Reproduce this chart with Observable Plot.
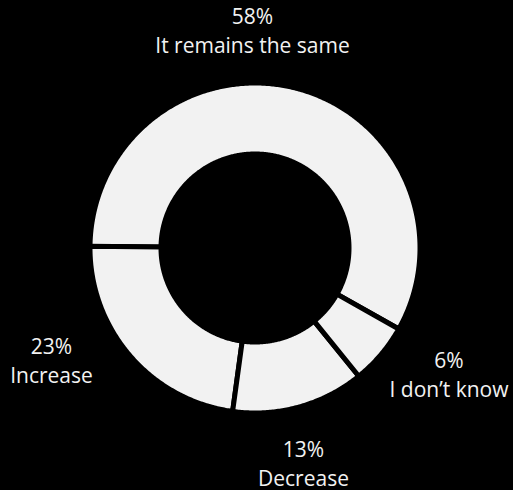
<!DOCTYPE html>
<html><head><meta charset="utf-8">
<script src="https://cdn.jsdelivr.net/npm/d3@7"></script>
<script src="https://cdn.jsdelivr.net/npm/@observablehq/plot@0.6"></script>
<style>html,body{margin:0;padding:0;background:#000;} #chart svg{display:block}</style>
</head><body><div id="chart"></div>
<script>
// data
const categories = ["It remains the same", "Increase", "Decrease", "I don’t know"];
const values = [58, 23, 13, 6];
const pctLabels = ["58%", "23%", "13%", "6%"];

// layout
const W = 513, H = 490, cx = 255, cy = 248, R0 = 165, R1 = 94;
const startDeg = 119.4; // slices run counterclockwise from here
const labelOffsets = [[-3, -219.7], [-204, 110.3], [48, 213.7], [193.5, 124.3]];

const total = d3.sum(values);
const ring = [];
let a = startDeg;
categories.forEach((c, i) => {
  const span = values[i] / total * 360;
  const a0 = a, a1 = a - span;
  const n = Math.max(2, Math.ceil(span / 0.5));
  for (let k = 0; k <= n; k++) {
    const t = (a0 + (a1 - a0) * k / n) * Math.PI / 180;
    ring.push({cat: c,
      x1: cx + R0 * Math.sin(t), y1: cy - R0 * Math.cos(t),
      x2: cx + R1 * Math.sin(t), y2: cy - R1 * Math.cos(t)});
  }
  a = a1;
});
const labels = categories.map((c, i) => ({
  text: pctLabels[i] + "\n" + c,
  x: cx + labelOffsets[i][0],
  y: cy + labelOffsets[i][1]
}));

const chart = Plot.plot({
  width: W, height: H, margin: 0,
  x: {domain: [0, W], range: [0, W], axis: null},
  y: {domain: [0, H], range: [0, H], axis: null},
  style: {background: "#000", fontFamily: "'Open Sans', sans-serif"},
  marks: [
    Plot.area(ring, {x1: "x1", y1: "y1", x2: "x2", y2: "y2", z: "cat", curve: "linear",
      fill: "#f2f2f2", stroke: "#000", strokeWidth: 5}),
    Plot.text(labels, {x: "x", y: "y", text: "text", fill: "#f2f2f2", fontSize: 21,
      lineHeight: 1.4, lineAnchor: "middle", textAnchor: "middle"})
  ]
});
document.getElementById("chart").append(chart);
</script>
</body></html>
